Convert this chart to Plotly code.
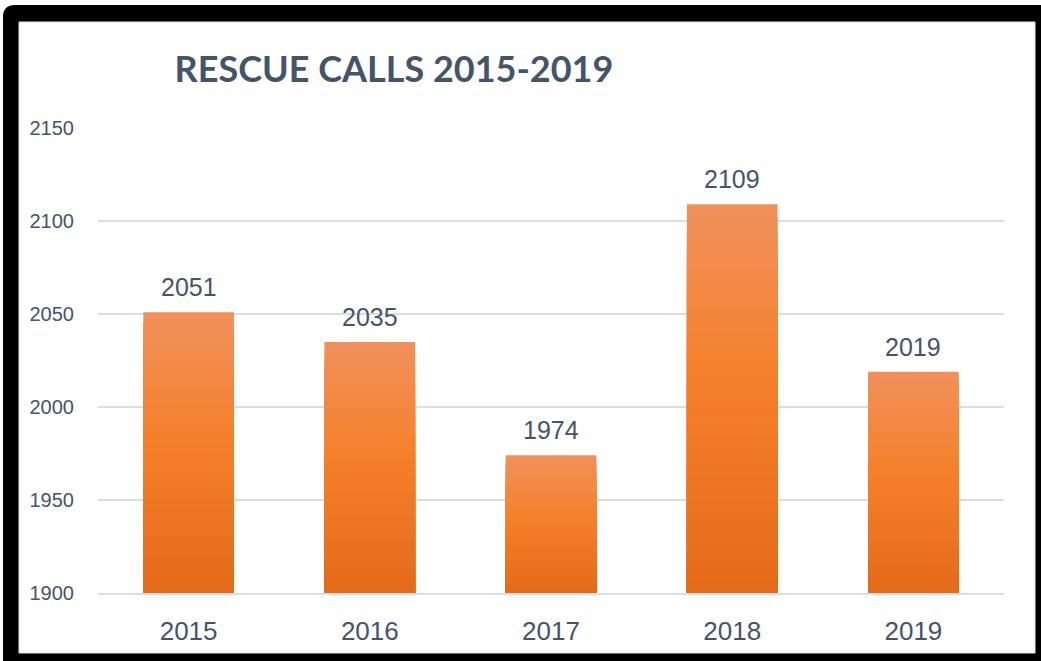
import plotly.graph_objects as go

# ---- data ----
years = ["2015", "2016", "2017", "2018", "2019"]
calls = [2051, 2035, 1974, 2109, 2019]
y_ticks = [1900, 1950, 2000, 2050, 2100, 2150]
title_text = "RESCUE CALLS 2015-2019"

# ---- style ----
W, H = 1041, 661
ML, MR, MT, MB = 98, 37, 128, 68
TXT = "#44546A"
GRID = "#D9DEE6"
Y0, Y1 = 1900, 2150

def hex2rgb(h):
    h = h.lstrip("#")
    return tuple(int(h[i:i + 2], 16) for i in (0, 2, 4))

# gradient stops (t=0 bottom, t=1 top)
stops = [(0.0, "#E46A1B"), (0.55, "#F5802B"), (1.0, "#F0915C")]

def grad(t):
    for (t0, c0), (t1, c1) in zip(stops[:-1], stops[1:]):
        if t0 <= t <= t1:
            a = (t - t0) / (t1 - t0)
            r0, g0, b0 = hex2rgb(c0)
            r1, g1, b1 = hex2rgb(c1)
            return "rgb(%d,%d,%d)" % (round(r0 + (r1 - r0) * a), round(g0 + (g1 - g0) * a), round(b0 + (b1 - b0) * a))
    return stops[-1][1]

fig = go.Figure()
N = 30
for k in range(N, 0, -1):
    fig.add_trace(go.Bar(
        x=years,
        y=[(v - Y0) * k / N for v in calls],
        base=[Y0] * len(calls),
        width=0.5,
        marker=dict(color=grad((k - 0.5) / N), line=dict(width=0)),
        showlegend=False,
        hoverinfo="skip",
    ))

annotations = [
    dict(x=i, y=v, xref="x", yref="y", text=str(v), showarrow=False,
         yanchor="bottom", yshift=9,
         font=dict(family="Liberation Sans, Arial, sans-serif", size=25, color=TXT))
    for i, v in enumerate(calls)
]

# frame shapes (paper coords derived from pixel layout)
pw, ph = W - ML - MR, H - MT - MB
def px(x):
    return (x - ML) / pw
def py(y):
    return (H - MB - y) / ph

r = 12
x0, x1, ya, yb = 3, 1060, 5, 680
path = (f"M {px(x0)},{py(ya + r)} Q {px(x0)},{py(ya)} {px(x0 + r)},{py(ya)} "
        f"L {px(x1)},{py(ya)} L {px(x1)},{py(yb)} L {px(x0)},{py(yb)} Z")
shapes = [
    dict(type="path", xref="paper", yref="paper", path=path,
         fillcolor="black", line=dict(width=0), layer="below"),
    dict(type="rect", xref="paper", yref="paper",
         x0=px(19), x1=px(1035), y0=py(653), y1=py(22),
         fillcolor="white", line=dict(color="#E4E6EA", width=1), layer="below"),
]

fig.update_layout(
    width=W, height=H,
    margin=dict(l=ML, r=MR, t=MT, b=MB),
    paper_bgcolor="white",
    plot_bgcolor="rgba(0,0,0,0)",
    barmode="overlay",
    shapes=shapes,
    annotations=annotations,
    title=dict(
        text=f"<b>{title_text}</b>",
        x=394 / W, xanchor="center", xref="container",
        y=1 - 69 / H, yanchor="middle",
        font=dict(family="Lato, Carlito, Calibri, sans-serif", size=36, color=TXT),
    ),
    xaxis=dict(
        type="category",
        range=[-0.5, len(years) - 0.5],
        showgrid=False, zeroline=False,
        showline=True, linecolor=GRID, linewidth=1.5,
        ticks="outside", ticklen=14, tickcolor="rgba(0,0,0,0)",
        tickfont=dict(family="Liberation Sans, Arial, sans-serif", size=26, color=TXT),
        fixedrange=True,
    ),
    yaxis=dict(
        range=[Y0, Y1],
        tickvals=y_ticks,
        ticktext=[str(t) for t in y_ticks],
        showgrid=True, gridcolor=GRID, gridwidth=1.5,
        zeroline=False, showline=False,
        ticks="outside", ticklen=19, tickcolor="rgba(0,0,0,0)",
        tickfont=dict(family="Liberation Sans, Arial, sans-serif", size=20, color=TXT),
        fixedrange=True,
    ),
)

fig.write_html(
    "out.html",
    config={"displayModeBar": False},
    post_script="document.body.style.margin='0';document.body.style.overflow='hidden';",
)
